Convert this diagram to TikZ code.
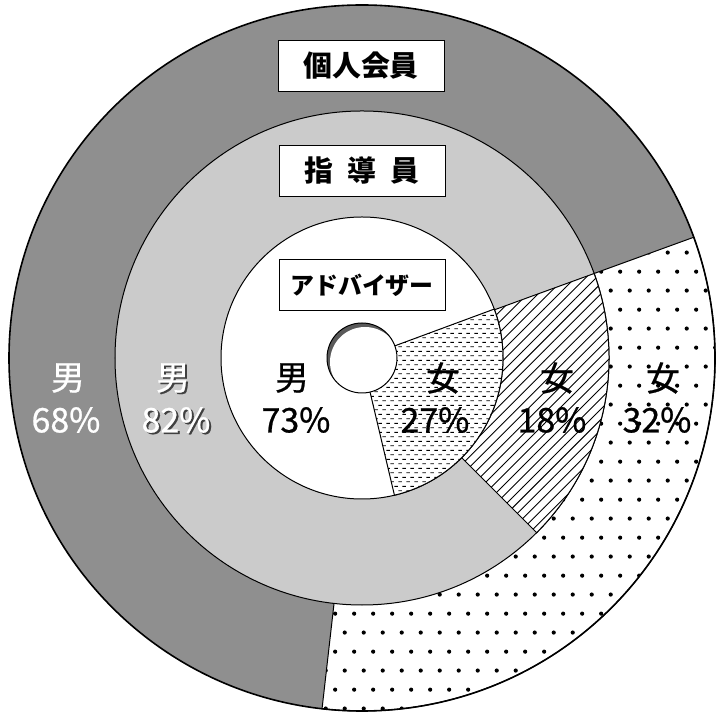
\documentclass[tikz,border=0pt]{standalone}
\usepackage{fontspec}
\newfontfamily\jp{Noto Sans CJK JP}
\newfontfamily\jpv[FakeBold=0.7]{Noto Sans CJK JP}
\usetikzlibrary{patterns,calc}

\definecolor{outerg}{RGB}{143,143,143}
\definecolor{midg}{RGB}{203,203,203}
\definecolor{holeg}{RGB}{90,90,90}

\pgfdeclarepatternformonly{stagdots}{\pgfqpoint{0pt}{0pt}}{\pgfqpoint{19pt}{38pt}}{\pgfqpoint{19pt}{38pt}}{%
 \pgfpathcircle{\pgfqpoint{4.75pt}{9.5pt}}{2.1pt}%
 \pgfpathcircle{\pgfqpoint{14.25pt}{28.5pt}}{2.1pt}%
 \pgfusepath{fill}}

\pgfdeclarepatternformonly{nelines}{\pgfqpoint{-1pt}{-1pt}}{\pgfqpoint{11.5pt}{11.5pt}}{\pgfqpoint{10.5pt}{10.5pt}}{%
 \pgfsetlinewidth{0.9pt}%
 \pgfpathmoveto{\pgfqpoint{0pt}{0pt}}\pgfpathlineto{\pgfqpoint{10.6pt}{10.6pt}}%
 \pgfusepath{stroke}}

\pgfdeclarepatternformonly{hdashes}{\pgfqpoint{0pt}{0pt}}{\pgfqpoint{8pt}{9.4pt}}{\pgfqpoint{8pt}{9.4pt}}{%
 \pgfsetlinewidth{0.9pt}%
 \pgfpathmoveto{\pgfqpoint{0.5pt}{2.35pt}}\pgfpathlineto{\pgfqpoint{4pt}{2.35pt}}%
 \pgfpathmoveto{\pgfqpoint{4.5pt}{7.05pt}}\pgfpathlineto{\pgfqpoint{8pt}{7.05pt}}%
 \pgfusepath{stroke}}

\tikzset{
  edge/.style={draw=black, line width=1bp},
  titlebox/.style={draw=black, line width=1bp, fill=white, minimum width=166bp,
    minimum height=51bp, inner sep=0pt},
  bigtitle/.style={titlebox, font=\jp\bfseries\fontsize{29}{29}\selectfont},
  smalltitle/.style={titlebox, font=\jp\bfseries\fontsize{24}{24}\selectfont},
  val/.style={inner sep=0pt, font=\jpv\fontsize{34}{34}\selectfont},
  whiteval/.style={val, text=white},
  shadowval/.style={val, text=black!75},
}

\begin{document}
\begin{tikzpicture}[x=1bp, y=1bp]
\useasboundingbox (0,0) rectangle (716,717);
\coordinate (C) at (362,359);

% outer ring: individual members
\fill[outerg] (C) circle[radius=353bp];
\path[edge, preaction={fill=white}, pattern=stagdots]
  (C) -- +(20:353bp) arc[start angle=20, end angle=-96.5, radius=353bp] -- cycle;

% middle ring: instructors
\path[edge, fill=midg] (C) circle[radius=247bp];
\path[edge, preaction={fill=white}, pattern=nelines]
  (C) -- +(20:247bp) arc[start angle=20, end angle=-45, radius=247bp] -- cycle;

% inner ring: advisers
\path[edge, fill=white] (C) circle[radius=141bp];
\path[edge, preaction={fill=white}, pattern=hdashes]
  (C) -- +(20.3:141bp) arc[start angle=20.3, end angle=-76.7, radius=141bp] -- cycle;

% centre hole
\fill[holeg] (C) circle[radius=35bp];
\begin{scope}
  \clip (C) circle[radius=35bp];
  \fill[white] ($(C)+(3,-4)$) circle[radius=35bp];
\end{scope}
\draw[edge] (C) circle[radius=35bp];

% outer rim
\draw[line width=1.6bp] (C) circle[radius=353bp];

% titles
\node[bigtitle] (t1) at (361,651) {個人会員};
\node[bigtitle] (t2) at (362,546) {指\hspace{0.5em}導\hspace{0.5em}員};
\node[smalltitle] (t3) at (362,432) {アドバイザー};

% labels
\node[whiteval] (m1) at (68,339) {男};
\node[whiteval] (p1) at (66,297) {68\%};

\node[shadowval] (m2s) at (175,337.5) {男};
\node[shadowval] (p2s) at (178,295.5) {82\%};
\node[whiteval] (m2) at (173,339) {男};
\node[whiteval] (p2) at (176,297) {82\%};

\node[val] (m3) at (292,339) {男};
\node[val] (p3) at (296,297) {73\%};

\node[val] (f1) at (443,339) {女};
\node[val] (q1) at (435,297) {27\%};

\node[val] (f2) at (557,339) {女};
\node[val] (q2) at (552,297) {18\%};

\node[val] (f3) at (663,339) {女};
\node[val] (q3) at (657,297) {32\%};
\end{tikzpicture}
\end{document}
